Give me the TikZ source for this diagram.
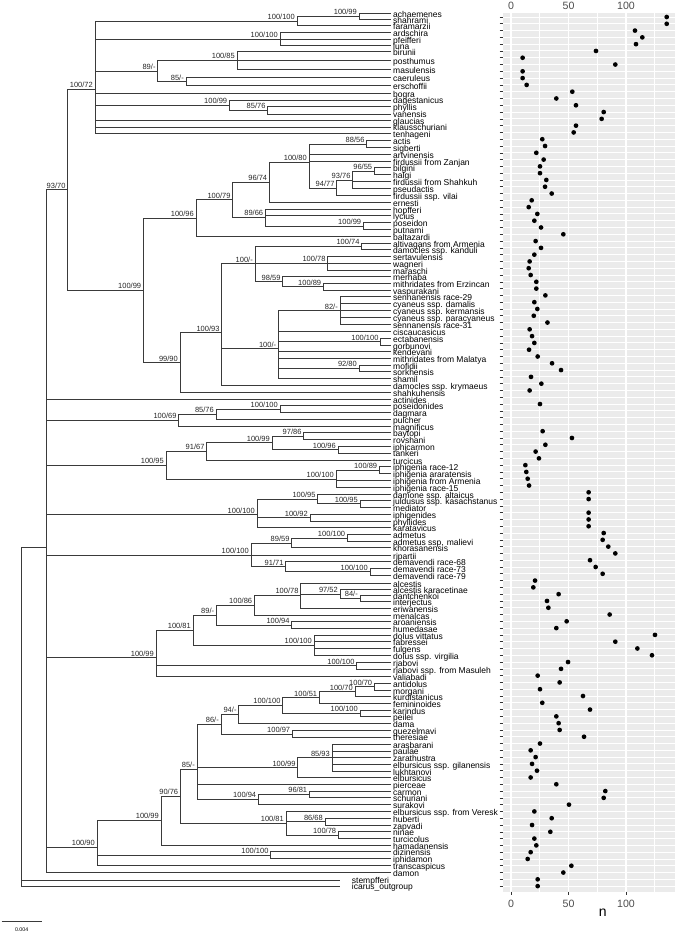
\documentclass[tikz,border=0pt]{standalone}
\usepackage{fontspec}
\setmainfont{Liberation Sans}
\usetikzlibrary{calc}

\definecolor{treegrey}{HTML}{3A3A3A}
\definecolor{panelgrey}{HTML}{EBEBEB}
\definecolor{axisgrey}{HTML}{4D4D4D}
\definecolor{tickgrey}{HTML}{333333}

\tikzset{
  branch/.style={draw=treegrey, line width=0.8pt},
  taxon/.style={anchor=base west, inner sep=0pt, yshift=-2.4pt, font=\fontsize{8.5}{8.5}\selectfont},
  support/.style={anchor=base east, inner sep=0pt, xshift=-2pt, yshift=1.6pt, text=black!85, font=\fontsize{7.5}{7.5}\selectfont},
  gridrow/.style={draw=white, line width=0.9pt},
  gridmajor/.style={draw=white, line width=1.1pt},
  gridminor/.style={draw=white, line width=0.55pt},
  tickmark/.style={draw=tickgrey, line width=0.6pt},
  axislab/.style={text=axisgrey, inner sep=0pt, font=\fontsize{10.6}{10.6}\selectfont},
  dot/.style={fill=black}
}

% clade: name, x, children, support value; y is the mean of the children
\newcommand{\clade}[4]{%
  \gdef\ysum{0}\gdef\nkids{0}%
  \foreach \kid in {#3}{%
    \pgfmathsetmacro\tmpy{\ysum+\csname ty@\kid\endcsname}\xdef\ysum{\tmpy}%
    \pgfmathtruncatemacro\tmpn{\nkids+1}\xdef\nkids{\tmpn}}%
  \pgfmathsetmacro\ymid{\ysum/\nkids}%
  \expandafter\xdef\csname ty@#1\endcsname{\ymid}%
  \coordinate (#1) at (#2,\ymid);
  \foreach \kid in {#3}{\draw[branch] (#1) |- (\kid);}
  \if\relax\detokenize{#4}\relax\else
    \node[support] at (#1) {#4};
  \fi
}
\def\nodot{na}

\begin{document}
\begin{tikzpicture}[x=1pt, y=-1pt]
  \useasboundingbox (0,0) rectangle (675,934);

  % Dot panel
  \fill[panelgrey] (503.3,12.7) rectangle (675,891.7);
  \foreach \v in {25,75,125}
    \draw[gridminor] ({511+1.15*\v},12.7) -- ({511+1.15*\v},891.7);
  \foreach \v in {0,50,100}
    \draw[gridmajor] ({511+1.15*\v},12.7) -- ({511+1.15*\v},891.7);
  \foreach \k in {0,...,128}{
    \draw[gridrow] (503.3,{17+6.79*\k}) -- (675,{17+6.79*\k});
    \draw[tickmark] (499.6,{17+6.79*\k}) -- (503.3,{17+6.79*\k});
  }
  \foreach \v in {0,50,100}{
    \draw[tickmark] ({511+1.15*\v},891.7) -- ({511+1.15*\v},895.4);
    \node[axislab] at ({511+1.15*\v},904) {\v};
    \node[axislab] at ({511+1.15*\v},5.6) {\v};
  }
  \node[inner sep=0pt, font=\fontsize{14}{14}\selectfont] (ntitle) at (602.7,913) {n};

  % Counts
  \foreach \v [count=\k] in {135.4, 135.4, 107.8, 114.2, 108.7, 73.9, 10.1, 90.7, 10.1, 10.1,
      13.6, 53.3, 39.4, 56.5, 80.6, 78.8, 56.5, 54.5, 27.2, 29.6,
      22, 28.4, 25.2, 25.2, 30.7, 29.6, 35.4, 18, 15.4, 22.9,
      20.3, 26.1, 45.5, 21.4, 26.1, 20.3, 16.2, 15.4, 17.1, 22,
      22, 29.9, 20.3, 22.9, 19.8, 31.7, 16.2, 18.3, 20.3, 15.7,
      23.2, 35.7, 43.5, 17.4, 26.4, 16.2, na, 25.2, na, na,
      na, 27.5, 53, 29.9, 21.4, 24.3, 12.5, 13.3, 14.5, 15.7,
      67.5, 67.5, na, 67.5, 67.5, 67.5, 80.6, 79.7, 84.6, 90.7,
      68.7, 73.6, 79.7, 20.9, 19.4, 41.4, 31.3, 32.5, 85.8, 48.4,
      39.4, 125.2, 90.7, 109.9, 122.6, 49.6, 43.5, 23.2, 42.3, 25.2,
      62.6, 27.2, 68.7, 39.4, 41.4, 42.3, 63.5, 25.2, 17.1, 21.4,
      18.3, 22.6, 17.1, 39.4, 82, 80.6, 50.4, 20.3, 35.4, 18.3,
      34.2, 20.3, 22, 17.1, 14.5, 52.5, 45.5, 23.2, 23.2}{
    \ifx\v\nodot\else
      \fill[dot] ({511+1.15*\v},{17+6.79*(\k-1)}) circle (2.35pt);
    \fi
  }

  % Tips
  \foreach \y/\name [count=\k] in {15/achaemenes, 20.7/shahrami, 27.3/faramarzii, 34.3/ardschira,
      41/pfeifferi, 46.7/luna, 53.3/birunii, 61.7/posthumus, 70.7/masulensis, 79.3/caeruleus,
      87.3/erschoffii, 95/bogra, 101.5/dagestanicus, 108.3/phyllis, 115.5/vanensis, 122.3/glaucias,
      128.5/klausschuriani, 135/tenhageni, 142.3/actis, 149/sigberti, 155.7/artvinensis,
      162.7/firdussii from Zanjan, 169.3/bilgini, 176/halgi, 183.3/firdussii from Shahkuh,
      190/pseudactis, 197.3/firdussii ssp. vilai, 204/ernesti, 210.7/hopfferi, 217.3/lycius,
      224/poseidon, 231/putnami, 237.7/baltazardi, 245/altivagans from Armenia,
      251/damocles ssp. kanduli, 257.7/sertavulensis, 265/wagneri, 271.7/maraschi, 278.3/merhaba,
      285/mithridates from Erzincan, 291.7/vaspurakani, 298.3/sennanensis race-29,
      305.3/cyaneus ssp. damalis, 312.3/cyaneus ssp. kermansis, 319/cyaneus ssp. paracyaneus,
      325.7/sennanensis race-31, 332.7/ciscaucasicus, 340/ectabanensis, 346.7/gorbunovi,
      353.3/kendevani, 360/mithridates from Malatya, 366.7/mofidii, 373.3/sorkhensis, 380/shamil,
      387.3/damocles ssp. krymaeus, 394.3/shahkuhensis, 401/actinides, 407.3/poseidonides,
      414.3/dagmara, 421/pulcher, 427.7/magnificus, 434.3/baytopi, 441/rovshani, 447.7/iphicarmon,
      454.5/tankeri, 461.7/turcicus, 468.3/iphigenia race-12, 475/iphigenia araratensis,
      482.3/iphigenia from Armenia, 489/iphigenia race-15, 495.7/damone ssp. altaicus,
      501.7/juldusus ssp. kasachstanus, 509/mediator, 516/iphigenides, 522.7/phyllides,
      529.3/karatavicus, 536/admetus, 543.3/admetus ssp. malievi, 549.3/khorasanensis,
      556.7/ripartii, 563.3/demavendi race-68, 570/demavendi race-73, 576.7/demavendi race-79,
      585/alcestis, 591/alcestis karacetinae, 596.7/dantchenkoi, 603.3/interjectus,
      610/eriwanensis, 616.7/menalcas, 623.3/aroaniensis, 630/humedasae, 636.7/dolus vittatus,
      643.3/fabressei, 650/fulgens, 657.3/dolus ssp. virgilia, 664/rjabovi,
      670.7/rjabovi ssp. from Masuleh, 678.3/valiabadi, 685/antidolus, 691.7/morgani,
      698.3/kurdistanicus, 705/femininoides, 711.7/karindus, 718.3/peilei, 725/dama,
      732.3/guezelmavi, 738.5/theresiae, 745.7/arasbarani, 752.5/paulae, 759.2/zarathustra,
      766/elbursicus ssp. gilanensis, 772.7/lukhtanovi, 779.3/elbursicus, 786/pierceae,
      792.7/carmon, 799.3/schuriani, 806/surakovi, 813.3/elbursicus ssp. from Veresk,
      820/huberti, 826.7/zapvadi, 833.3/ninae, 840/turcicolus, 846.7/hamadanensis,
      853.3/dizinensis, 860/iphidamon, 867.3/transcaspicus, 874/damon}{
    \pgfmathsetmacro\ly{\y-1.5}
    \expandafter\xdef\csname ty@t\k\endcsname{\ly}
    \coordinate (t\k) at (391,\ly);
    \node[taxon] (lab\k) at (393,\y) {\name};
  }
  % Outgroups
  \foreach \y/\name [count=\j from 128] in {880/stempfferi, 886/icarus\_outgroup}{
    \expandafter\xdef\csname ty@t\j\endcsname{\y}
    \coordinate (t\j) at (340,\y);
    \node[taxon] (lab\j) at (351.7,{\y+1}) {\name};
  }

  % Tree
  \clade{nA}{359}{t1,t2}{100/99}
  \clade{nB}{297}{nA,t3}{100/100}
  \clade{nC}{280}{t4,t5,t6}{100/100}
  \clade{nD}{237}{t7,t8,t9}{100/85}
  \clade{nE}{186}{t10,t11}{85/-}
  \clade{nF}{157.7}{nD,nE}{89/-}
  \clade{nG}{267.7}{t14,t15}{85/76}
  \clade{nH}{229.3}{t13,nG}{100/99}
  \clade{nI}{95}{nB,nC,nF,t12,nH,t16,t17,t18}{100/72}
  \clade{nJ}{366.7}{t19,t20}{88/56}
  \clade{nK}{374.3}{t23,t24}{96/55}
  \clade{nL}{352.7}{nK,t25,t26}{93/76}
  \clade{nM}{336.7}{nL,t27}{94/77}
  \clade{nN}{309}{nJ,t21,t22,nM}{100/80}
  \clade{nO}{269.3}{nN,t28}{96/74}
  \clade{nP}{363.3}{t31,t32}{100/99}
  \clade{nQ}{265.3}{t29,t30,nP}{89/66}
  \clade{nR}{232.7}{nO,nQ}{100/79}
  \clade{nS}{196}{nR,t33}{100/96}
  \clade{nT}{361.7}{t34,t35}{100/74}
  \clade{nU}{327.7}{t36,t37,t38}{100/78}
  \clade{nV}{323.3}{t40,t41}{100/89}
  \clade{nW}{282.7}{t39,nV}{98/59}
  \clade{nX}{255}{nT,nU,nW}{100/-}
  \clade{nY}{340}{t42,t43,t44,t45,t46}{82/-}
  \clade{nZ}{380.7}{t48,t49}{100/100}
  \clade{nAA}{359}{t52,t53}{92/80}
  \clade{nAB}{278.3}{nY,t47,nZ,t50,t51,nAA,t54}{100/-}
  \clade{nAC}{221.7}{nX,nAB,t55}{100/93}
  \clade{nAD}{180}{nAC,t56}{99/90}
  \clade{nAE}{143.3}{nS,nAD}{100/99}
  \clade{nAF}{67.7}{nI,nAE}{93/70}
  \clade{nAG}{280}{t58,t59}{100/100}
  \clade{nAH}{216}{nAG,t60}{85/76}
  \clade{nAI}{178.7}{nAH,t61}{100/69}
  \clade{nAJ}{303.7}{t62,t63}{97/86}
  \clade{nAK}{338}{t64,t65}{100/96}
  \clade{nAL}{272}{nAJ,nAK}{100/99}
  \clade{nAM}{206.7}{nAL,t66}{91/67}
  \clade{nAN}{379.3}{t67,t68}{100/89}
  \clade{nAO}{336}{nAN,t69,t70}{100/100}
  \clade{nAP}{166}{nAM,nAO}{100/95}
  \clade{nAQ}{360}{t72,t73}{100/95}
  \clade{nAR}{317.7}{t71,nAQ}{100/95}
  \clade{nAS}{310}{t74,t75}{100/92}
  \clade{nAT}{257}{nAR,nAS,t76}{100/100}
  \clade{nAU}{347.3}{t77,t78}{100/100}
  \clade{nAV}{291.7}{nAU,t79}{89/59}
  \clade{nAW}{370}{t82,t83}{100/100}
  \clade{nAX}{285.7}{t81,nAW}{91/71}
  \clade{nAY}{251}{nAV,t80,nAX}{100/100}
  \clade{nAZ}{360}{t86,t87}{84/-}
  \clade{nBA}{340}{t85,nAZ}{97/52}
  \clade{nBB}{300.7}{t84,nBA,t88}{100/78}
  \clade{nBC}{254.3}{nBB,t89}{100/86}
  \clade{nBD}{291.7}{t90,t91}{100/94}
  \clade{nBE}{216.3}{nBC,nBD}{89/-}
  \clade{nBF}{314}{t92,t93,t94,t95}{100/100}
  \clade{nBG}{193}{nBE,nBF}{100/81}
  \clade{nBH}{356.7}{t96,t97}{100/100}
  \clade{nBI}{156}{nBG,nBH,t98}{100/99}
  \clade{nBJ}{374.3}{t99,t100}{100/70}
  \clade{nBK}{355}{nBJ,t101}{100/70}
  \clade{nBL}{319.3}{nBK,t102}{100/51}
  \clade{nBM}{360}{t103,t104}{100/100}
  \clade{nBN}{282.7}{nBL,nBM}{100/100}
  \clade{nBO}{238.7}{nBN,t105}{94/-}
  \clade{nBP}{292.3}{t106,t107}{100/97}
  \clade{nBQ}{221}{nBO,nBP}{86/-}
  \clade{nBR}{332}{t108,t109,t110,t111,t112}{85/93}
  \clade{nBS}{297.7}{nBR,t113}{100/99}
  \clade{nBT}{309.3}{t115,t116}{96/81}
  \clade{nBU}{258.3}{nBT,t117}{100/94}
  \clade{nBV}{197}{nBQ,nBS,t114,nBU}{85/-}
  \clade{nBW}{325}{t119,t120}{86/68}
  \clade{nBX}{338.3}{t121,t122}{100/78}
  \clade{nBY}{286}{t118,nBW,nBX}{100/81}
  \clade{nBZ}{180.3}{nBV,nBY}{90/76}
  \clade{nCA}{161}{nBZ,t123}{100/99}
  \clade{nCB}{270.7}{t124,t125}{100/100}
  \clade{nCC}{97}{nCA,nCB,t126}{100/90}
  \clade{nIn}{46.3}{nAF,t57,nAI,nAP,nAT,nAY,nBI,nCC,t127}{}
  \clade{nRoot}{21.3}{nIn,t128,t129}{}

  % Scale bar
  \coordinate (sbl) at (1.7,921);
  \coordinate (sbr) at (41.7,921);
  \draw[branch] (sbl) -- (sbr);
  \node[inner sep=0pt, font=\fontsize{5.3}{5.3}\selectfont] (sblab) at (21.7,930) {0.004};
\end{tikzpicture}
\end{document}
